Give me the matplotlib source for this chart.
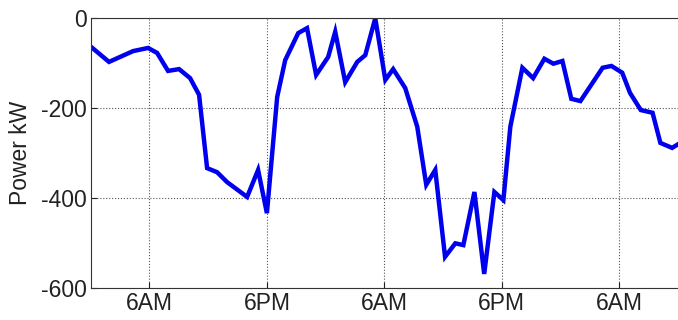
import matplotlib
matplotlib.use("Agg")
import matplotlib.pyplot as plt

# hours since midnight of first day, power in kW
hours = [0.0, 1.87, 4.33, 5.86, 6.78, 7.9, 9.03, 10.15, 11.07, 11.89,
         12.91, 13.93, 15.98, 17.1, 18.0, 19.05, 19.87, 21.2, 22.1, 23.03,
         24.26, 24.98, 26.0, 27.23, 28.05, 29.07, 30.1, 30.9, 32.13, 33.36,
         34.28, 35.2, 36.2, 37.25, 38.07, 39.2, 40.2, 41.24, 42.16, 42.87,
         44.1, 45.2, 46.35, 47.27, 48.19, 49.1, 50.03, 52.3, 53.2, 54.3,
         55.1, 56.2, 57.4, 58.2, 59.4, 60.0]
power = [-63, -97, -73, -66, -77, -117, -113, -133, -170, -333,
         -342, -364, -397, -337, -433, -175, -93, -33, -22, -126,
         -86, -30, -142, -97, -82, 0, -137, -113, -155, -241,
         -370, -337, -530, -500, -504, -386, -568, -386, -404, -241,
         -110, -133, -90, -101, -95, -179, -184, -110, -106, -121,
         -166, -204, -210, -277, -288, -280]

tick_pos = [6, 18, 30, 42, 54]
tick_labels = ['6AM', '6PM', '6AM', '6PM', '6AM']
yticks = [-600, -400, -200, 0]

plt.rcParams['font.family'] = ['Liberation Sans', 'DejaVu Sans']
plt.rcParams['axes.unicode_minus'] = False

fig = plt.figure(figsize=(6.78, 3.2), dpi=100)
ax = fig.add_axes([0.1338, 0.099, 0.8662, 0.844])
ax.plot(hours, power, color='#0000ee', linewidth=3.2, solid_joinstyle='miter')

ax.set_xlim(0, 60)
ax.set_ylim(-600, 0)
ax.set_xticks(tick_pos)
ax.set_xticklabels(tick_labels)
ax.set_yticks(yticks)
ax.tick_params(direction='in', length=4, labelsize=16.5, colors='#222222', pad=3)
ax.grid(True, linestyle=':', color='#555555', linewidth=0.8)
ax.spines['right'].set_visible(False)
for s in ['top', 'bottom', 'left']:
    ax.spines[s].set_color('#333333')
ax.set_ylabel('Power kW', fontsize=16.5, labelpad=6, color='#222222')

fig.savefig('out.png', dpi=100)
